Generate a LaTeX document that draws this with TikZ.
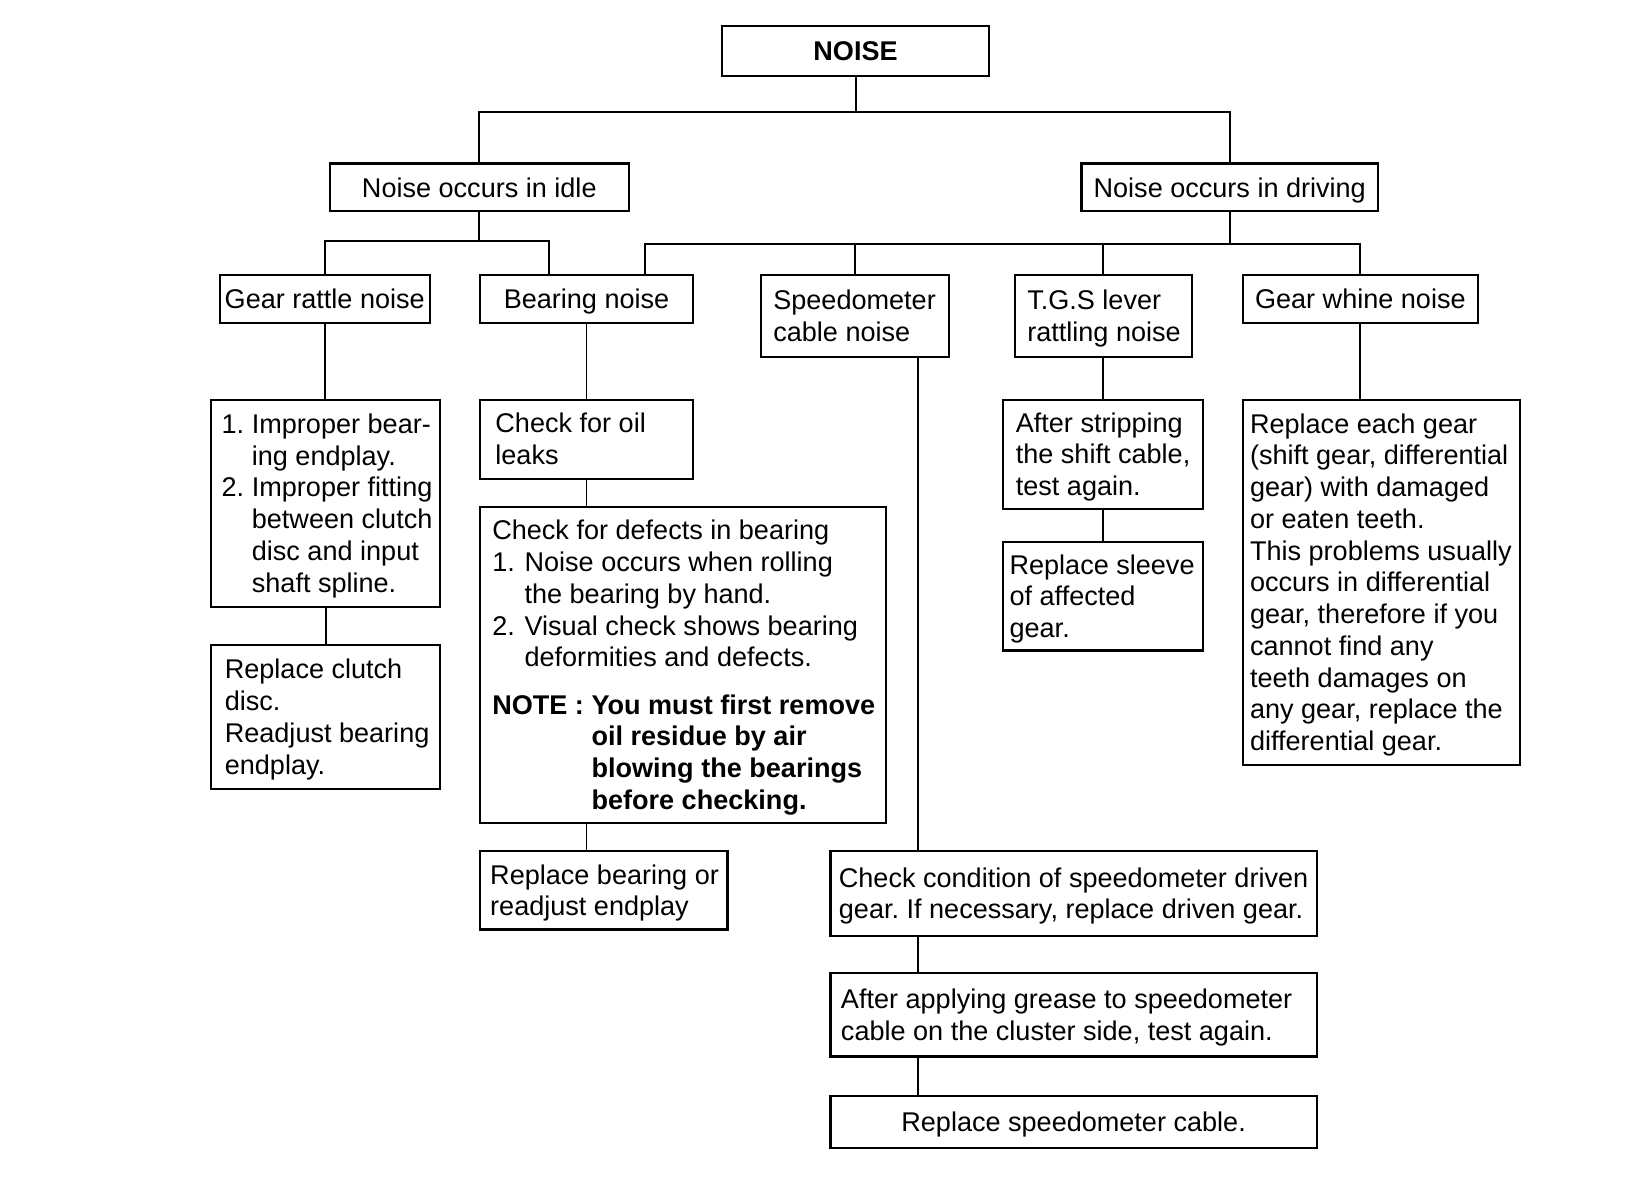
\documentclass[tikz,border=0pt]{standalone}
\usepackage{fontspec}
\setmainfont{Liberation Sans}
\frenchspacing
\newcommand\tb[1]{\begin{tabular}{@{}l@{}}#1\end{tabular}}
\newcommand\bxt[3]{\makebox[#1pt][l]{\hspace*{#2pt}\raisebox{-3pt}[\height][\depth]{\tb{#3}}}}
\newcommand\numl[2][29]{\makebox[#1pt][l]{#2}}
\newcommand\hind[1][29]{\hspace*{#1pt}}
\tikzset{
  box/.style={draw, line width=2.1pt, inner sep=0pt, font=\fontsize{26}{30.5}\selectfont},
  one/.style={box, text height=19pt, text depth=0pt},
  conn/.style={line width=1.9pt}
}
\begin{document}
\begin{tikzpicture}[x=1pt,y=1pt]
\useasboundingbox (0,0) rectangle (1568,-1136);
% level 0
\node[one, minimum width=256pt, minimum height=48pt] (noise) at (822,-49) {\textbf{NOISE}};
% level 1
\node[one, minimum width=287pt, minimum height=46pt] (idle) at (460.5,-180) {Noise occurs in idle};
\node[one, minimum width=285pt, minimum height=46pt] (driving) at (1181.5,-180) {Noise occurs in driving};
% level 2
\node[one, minimum width=202pt, minimum height=46pt] (rattle) at (312,-287) {Gear rattle noise};
\node[one, minimum width=205pt, minimum height=46pt] (bearing) at (563.5,-287) {Bearing noise};
\node[box, minimum height=79pt] (speedo) at (821.5,-303.5) {\bxt{181}{12}{Speedometer\\cable noise}};
\node[box, minimum height=79pt] (tgs) at (1060,-303.5) {\bxt{170}{12}{T.G.S lever\\rattling noise}};
\node[one, minimum width=226pt, minimum height=46pt] (whine) at (1307,-287) {Gear whine noise};
% gear rattle branch
\node[box, minimum height=199pt] (impr) at (313,-483.5) {\bxt{220}{10}{\numl{1.}Improper bear-\\
\hind ing endplay.\\
\numl{2.}Improper fitting\\
\hind between clutch\\
\hind disc and input\\
\hind shaft spline.}};
\node[box, minimum height=138pt] (clutch) at (313,-689) {\bxt{220}{13}{Replace clutch\\disc.\\Readjust bearing\\endplay.}};
% bearing branch
\node[box, minimum height=76pt] (oil) at (563.5,-422) {\bxt{205}{15}{Check for oil\\leaks}};
\node[box, minimum height=304pt] (defects) at (656,-639) {\bxt{390}{12}{Check for defects in bearing\\
\numl[31]{1.}Noise occurs when rolling\\
\hind[31]the bearing by hand.\\
\numl[31]{2.}Visual check shows bearing\\
\hind[31]deformities and defects.\\[15pt]
\textbf{NOTE : }\begin{tabular}[t]{@{}l@{}}\textbf{You must first remove}\\ \textbf{oil residue by air}\\ \textbf{blowing the bearings}\\ \textbf{before checking.}\end{tabular}}};
\node[box, minimum height=75pt] (replb) at (580,-855.5) {\bxt{238}{10}{Replace bearing or\\readjust endplay}};
% speedometer branch
\node[box, minimum height=81pt] (check) at (1031.5,-858.5) {\bxt{467}{8}{Check condition of speedometer driven\\gear. If necessary, replace driven gear.}};
\node[box, minimum height=80pt] (grease) at (1031.5,-975) {\bxt{467}{10}{After applying grease to speedometer\\cable on the cluster side, test again.}};
\node[one, minimum width=467pt, minimum height=50pt] (cable) at (1031.5,-1078) {Replace speedometer cable.};
% TGS branch
\node[box, minimum height=105pt] (strip) at (1060,-436.5) {\bxt{192}{12}{After stripping\\the shift cable,\\test again.}};
\node[box, minimum height=104pt] (sleeve) at (1060,-573) {\bxt{192}{6}{Replace sleeve\\of affected\\gear.}};
% gear whine branch
\node[box, minimum height=351pt] (each) at (1327,-559.5) {\bxt{266}{7}{Replace each gear\\
(shift gear, differential\\
gear) with damaged\\
or eaten teeth.\\
This problems usually\\
occurs in differential\\
gear, therefore if you\\
cannot find any\\
teeth damages on\\
any gear, replace the\\
differential gear.}};
% connectors
\coordinate (j1) at (822,-108);
\draw[conn] (noise.south) -- (j1);
\draw[conn] (idle.north) |- (j1) -| (driving.north);
\coordinate (j2) at (460.5,-232);
\draw[conn] (idle.south) -- (j2);
\draw[conn] (rattle.north) |- (j2) -| ([xshift=-36.5pt]bearing.north);
\coordinate (j3) at (1181.5,-234);
\draw[conn] (driving.south) -- (j3);
\draw[conn] ([xshift=56.5pt]bearing.north) |- (j3) -| (whine.north);
\draw[conn] (speedo.north) -- (speedo.north |- j3);
\draw[conn] (tgs.north) -- (tgs.north |- j3);
\draw[conn] (rattle.south) -- (rattle.south |- impr.north);
\draw[conn] (impr.south) -- (impr.south |- clutch.north);
\draw[conn] (bearing.south) -- (oil.north);
\draw[conn] (oil.south) -- (oil.south |- defects.north);
\draw[conn] (oil.south |- defects.south) -- (oil.south |- replb.north);
\coordinate (s0) at ([xshift=60.5pt]speedo.south);
\draw[conn] (s0) -- (s0 |- check.north);
\draw[conn] (s0 |- check.south) -- (s0 |- grease.north);
\draw[conn] (s0 |- grease.south) -- (s0 |- cable.north);
\draw[conn] (tgs.south) -- (strip.north);
\draw[conn] (strip.south) -- (sleeve.north);
\draw[conn] (whine.south) -- (whine.south |- each.north);
\end{tikzpicture}
\end{document}
